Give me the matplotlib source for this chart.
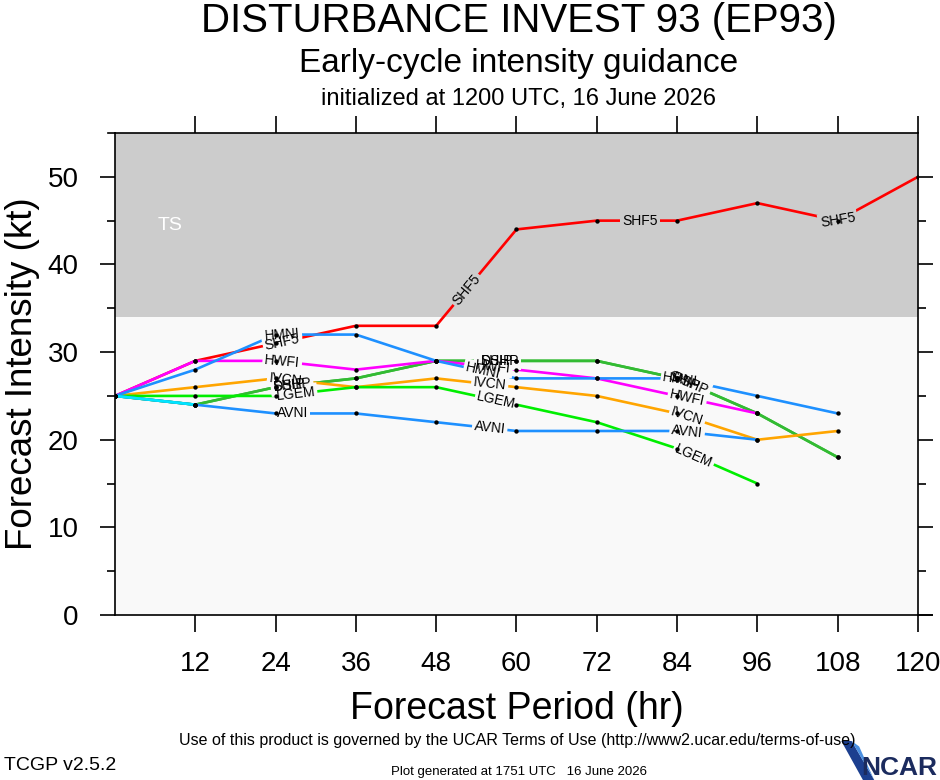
import numpy as np
import matplotlib
matplotlib.use("Agg")
import matplotlib.pyplot as plt
from matplotlib.patches import Polygon

plt.rcParams['font.family'] = ['Liberation Sans', 'DejaVu Sans']

# forecast hours
hours = [0, 12, 24, 36, 48, 60, 72, 84, 96, 108, 120]

# intensity guidance (kt)
shf5 = [25, 29, 31, 33, 33, 44, 45, 45, 47, 45, 50]
hmni = [25, 28, 32, 32, 29, 27, 27, 27, 25, 23]
hwfi = [25, 29, 29, 28, 29, 28, 27, 25, 23]
ship = [25, 24, 26, 27, 29, 29, 29, 27, 23, 18]
dshp = [25, 24, 26, 27, 29, 29, 29, 27, 23, 18]
ivcn = [25, 26, 27, 26, 27, 26, 25, 23, 20, 21]
lgem = [25, 25, 25, 26, 26, 24, 22, 19, 15]
avni = [25, 24, 23, 23, 22, 21, 21, 21, 20]
early = [25, 24]

models = [
    ('SHF5', shf5, '#ff0000', [25, 52.5, 78.5, 108]),
    ('SHIP', ship, '#33bb33', [26, 57, 85]),
    ('DSHP', dshp, '#33bb33', [26.5, 57.5, 86]),
    ('IVCN', ivcn, '#ffa500', [25.5, 56, 85.5]),
    ('LGEM', lgem, '#00ee00', [27, 57, 86.5]),
    ('AVNI', avni, '#1e90ff', [26.5, 56, 85.5]),
    ('HWFI', hwfi, '#ff00ff', [25, 56.5, 85.5]),
    ('HMNI', hmni, '#1e90ff', [25, 55, 84.5]),
    ('', early, '#00e5ff', []),
]

ts_thresh = 34

fig = plt.figure(figsize=(9.4, 7.8), dpi=100)
ax = fig.add_axes([0.1223, 0.2115, 0.8543, 0.618])
ax.set_facecolor('#f9f9f9')
ax.set_xlim(0, 120)
ax.set_ylim(0, 55)
ax.axhspan(ts_thresh, 55, color='#cccccc', zorder=0, lw=0)
ax.text(8.2, 44.4, 'TS', color='white', fontsize=14, ha='center', va='center')

for name, vals, col, lab_hours in models:
    h = hours[:len(vals)]
    ax.plot(h, vals, color=col, lw=1.9, zorder=2, solid_capstyle='butt')
    ax.scatter(h, vals, s=10, color='black', zorder=5, lw=0)


def label_angle(lh, h, vals):
    p1 = ax.transData.transform((lh - 1.5, np.interp(lh - 1.5, h, vals)))
    p2 = ax.transData.transform((lh + 1.5, np.interp(lh + 1.5, h, vals)))
    return np.degrees(np.arctan2(p2[1] - p1[1], p2[0] - p1[0]))


# line labels: first a gap box in the background colour, then the text
for name, vals, col, lab_hours in models:
    h = hours[:len(vals)]
    for lh in lab_hours:
        ly = np.interp(lh, h, vals)
        bg = '#cccccc' if ly > ts_thresh else '#f9f9f9'
        ax.text(lh, ly, name, fontsize=10, color='none', ha='center', va='center',
                rotation=label_angle(lh, h, vals), rotation_mode='anchor', zorder=3,
                bbox=dict(boxstyle='square,pad=0.15', fc=bg, ec='none'))
for name, vals, col, lab_hours in models:
    h = hours[:len(vals)]
    for lh in lab_hours:
        ly = np.interp(lh, h, vals)
        ax.text(lh, ly, name, fontsize=10, color='black', ha='center', va='center',
                rotation=label_angle(lh, h, vals), rotation_mode='anchor', zorder=4)

ax.set_xticks(hours[1:])
ax.set_yticks(range(0, 51, 10))
ax.set_yticks(range(5, 55, 10), minor=True)
ax.tick_params(axis='x', which='major', direction='out', length=12, width=1.2,
               labelsize=20, top=True, pad=14)
ax.tick_params(axis='y', which='major', direction='out', length=11, width=1.2,
               labelsize=20, right=True, pad=15)
ax.tick_params(axis='y', which='minor', direction='out', length=6, width=1.2, right=True)
for sp in ax.spines.values():
    sp.set_linewidth(1.2)
    sp.set_zorder(6)
# axis lines run a little past the corners
ax.plot([-0.009, 0], [1, 1], transform=ax.transAxes, clip_on=False, color='black', lw=1.2)
ax.plot([1, 1.018], [0, 0], transform=ax.transAxes, clip_on=False, color='black', lw=1.2)

ax.set_xlabel('Forecast Period (hr)', fontsize=27, labelpad=10)
ax.set_ylabel('Forecast Intensity (kt)', fontsize=26.5, labelpad=6)

fig.text(0.552, 0.998, 'DISTURBANCE INVEST 93 (EP93)', fontsize=29, ha='center', va='top')
fig.text(0.552, 0.939, 'Early-cycle intensity guidance', fontsize=24, ha='center', va='top')
fig.text(0.552, 0.887, 'initialized at 1200 UTC, 16 June 2026', fontsize=17, ha='center', va='top')

fig.text(0.55, 0.050, 'Use of this product is governed by the UCAR Terms of Use (http://www2.ucar.edu/terms-of-use)',
         fontsize=11.5, ha='center', va='center')
fig.text(0.004, 0.019, 'TCGP v2.5.2', fontsize=14, ha='left', va='center')
fig.text(0.552, 0.010, 'Plot generated at 1751 UTC   16 June 2026', fontsize=9.5, ha='center', va='center')

# NCAR logo
fig.patches.append(Polygon([[0.895, 0.050], [0.906, 0.050], [0.930, 0.0], [0.918, 0.0]], closed=True,
                           transform=fig.transFigure, fc='#1c3f8f', ec='none'))
fig.patches.append(Polygon([[0.906, 0.050], [0.914, 0.043], [0.930, 0.0]], closed=True,
                           transform=fig.transFigure, fc='#4a90e2', ec='none'))
fig.text(0.997, 0.016, 'NCAR', fontsize=19, color='#1b2b5e', ha='right', va='center',
         fontweight='bold')

fig.savefig('out.png', dpi=100)
